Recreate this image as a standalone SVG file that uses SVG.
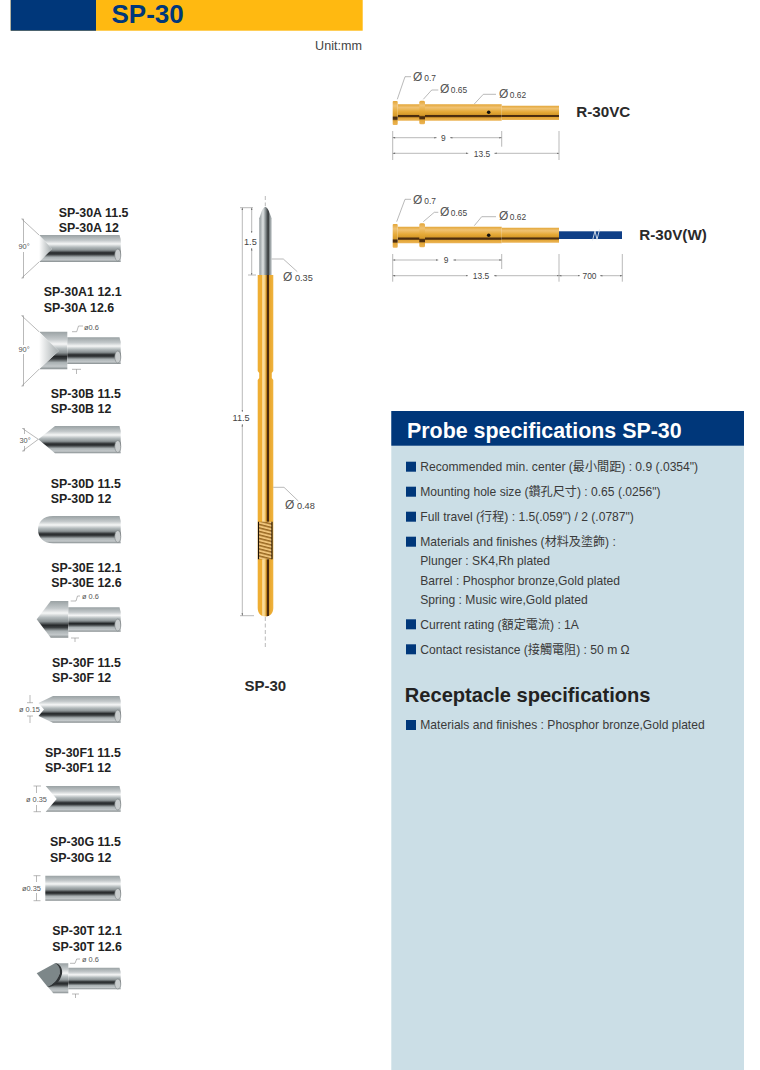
<svg xmlns="http://www.w3.org/2000/svg" width="760" height="1070" viewBox="0 0 760 1070">
<style>
text{font-family:"Liberation Sans","Noto Sans CJK TC",sans-serif}
.lb{font-size:12.4px;font-weight:700;fill:#222}
.sp{font-size:12.1px;fill:#3a3a3a}
.d{font-size:8.4px;fill:#444}
.dp{font-size:12px;fill:#555}
.m{font-size:9.2px;fill:#444}
.t{font-size:7.4px;fill:#555}
.big{font-size:15.2px;font-weight:700;fill:#2a2a2a}
.st{fill:url(#steel)}
.end{fill:#c9cdce;stroke:#7d8486;stroke-width:.6}
.g{fill:url(#gold)}
.ln{fill:none;stroke:#8a8a8a;stroke-width:.6}
.ar{fill:none;stroke:#8a8a8a;stroke-width:.6;marker-start:url(#as);marker-end:url(#ae)}
.bu{fill:#00377a}
</style>
<defs>
<linearGradient id="steel" x1="0" y1="0" x2="0" y2="1">
<stop offset="0" stop-color="#9aa2a4"/><stop offset=".2" stop-color="#c3c8ca"/><stop offset=".33" stop-color="#f5f6f6"/><stop offset=".45" stop-color="#b3babc"/><stop offset=".56" stop-color="#8b9294"/><stop offset=".66" stop-color="#25282a"/><stop offset=".72" stop-color="#3a3e40"/><stop offset=".82" stop-color="#aab1b3"/><stop offset=".92" stop-color="#c3c8ca"/><stop offset="1" stop-color="#858c8e"/>
</linearGradient>
<linearGradient id="cone" x1="0" y1="0" x2="1" y2="0">
<stop offset="0" stop-color="#fff"/><stop offset="1" stop-color="#a4abad"/>
</linearGradient>
<linearGradient id="pin" x1="0" y1="0" x2="1" y2="0">
<stop offset="0" stop-color="#8f979a"/><stop offset=".3" stop-color="#dfe3e4"/><stop offset=".5" stop-color="#8c9496"/><stop offset=".72" stop-color="#2e3234"/><stop offset=".85" stop-color="#8d9597"/><stop offset="1" stop-color="#c0c5c7"/>
</linearGradient>
<linearGradient id="barrel" x1="0" y1="0" x2="1" y2="0">
<stop offset="0" stop-color="#efae33"/><stop offset=".27" stop-color="#efae33"/><stop offset=".32" stop-color="#fbe3ac"/><stop offset=".46" stop-color="#f7cf7a"/><stop offset=".56" stop-color="#c88a20"/><stop offset=".6" stop-color="#4a2a0c"/><stop offset=".72" stop-color="#4a2a0c"/><stop offset=".76" stop-color="#e8a62c"/><stop offset="1" stop-color="#f0b440"/>
</linearGradient>
<linearGradient id="gold" x1="0" y1="0" x2="0" y2="1">
<stop offset="0" stop-color="#e3a638"/><stop offset=".2" stop-color="#f0c272"/><stop offset=".45" stop-color="#e6aa38"/><stop offset=".62" stop-color="#d69a2a"/><stop offset=".68" stop-color="#4a2c0e"/><stop offset=".76" stop-color="#50300f"/><stop offset=".82" stop-color="#e3a636"/><stop offset="1" stop-color="#ecb558"/>
</linearGradient>
<pattern id="hatch" width="13" height="3.4" patternUnits="userSpaceOnUse" patternTransform="rotate(14)">
<rect width="13" height="3.4" fill="#eec37a"/><rect width="13" height="1.5" fill="#9a6a24"/>
</pattern>
<marker id="as" markerWidth="5" markerHeight="4" refX="0" refY="2" orient="auto"><path d="M0 2L4 .8V3.2Z" fill="#666"/></marker>
<marker id="ae" markerWidth="5" markerHeight="4" refX="4" refY="2" orient="auto"><path d="M4 2L0 .8V3.2Z" fill="#666"/></marker>
</defs>
<rect width="760" height="1070" fill="#fff"/>

<g id="banner">
<rect x="10.7" y="0" width="352" height="30.7" fill="#ffb911"/>
<rect x="10.7" y="0" width="85.3" height="30.7" fill="#00377a"/>
<text x="111.5" y="22.7" font-size="26" font-weight="700" fill="#00377a">SP-30</text>
<text x="362" y="50" font-size="12.6" text-anchor="end" fill="#444">Unit:mm</text>
</g>

<g id="tip-A">
<text class="lb" x="58.7" y="216.5">SP-30A 11.5</text><text class="lb" x="58.7" y="231.5">SP-30A 12</text>
<path class="st" d="M39 235H119.5Q121.5 240 120.7 246V262H39L52 248.7Z"/>
<path d="M39 235L52 248.7L39 262Z" fill="url(#cone)"/>
<ellipse class="end" cx="117.8" cy="255" rx="3" ry="6"/>
<text class="t" x="18.5" y="248.5">90°</text>
<path class="ln" d="M39 235L21.7 219L23.5 219V243M23.5 252V278L21.7 278L39 262"/>
</g>
<g id="tip-A1">
<text class="lb" x="43.7" y="296">SP-30A1 12.1</text><text class="lb" x="43.7" y="311.5">SP-30A 12.6</text>
<path class="st" d="M39 331.7H67.3V369.3H39L58.7 351Z"/>
<path d="M39 331.7L58.7 351L39 369.3Z" fill="url(#cone)"/>
<path class="st" d="M67.3 337.3H119.5Q121.5 342 120.7 348V364H67.3Z"/>
<ellipse class="end" cx="117.8" cy="357" rx="3" ry="6"/>
<text class="t" x="18.5" y="351.5">90°</text>
<text class="t" x="84" y="330">ø0.6</text>
<path class="ln" d="M39 331.7L21.7 315.7L23.5 315.7V345M23.5 354V386L21.7 386L39 369.3"/>
<path class="ln" d="M72 331.7H76.7L78.5 326H83M72 369.3H81M76.5 369.3V374"/>
</g>
<g id="tip-B">
<text class="lb" x="50.7" y="397.7">SP-30B 11.5</text><text class="lb" x="50.7" y="412.7">SP-30B 12</text>
<path class="st" d="M38.3 439.3L55 426H119.5Q121.5 431 120.7 437V453.3H55Z"/>
<ellipse class="end" cx="117.8" cy="446.5" rx="3" ry="6"/>
<text class="t" x="19.5" y="442.5">30°</text>
<path class="ln" d="M38.3 439.3L22.5 428.5L24.5 428.5V434M24.5 446V451L22.5 451L38.3 439.3"/>
</g>
<g id="tip-D">
<text class="lb" x="50.7" y="487.7">SP-30D 11.5</text><text class="lb" x="50.7" y="502.7">SP-30D 12</text>
<path class="st" d="M53 516H119.5Q121.5 521 120.7 527V543.3H53C43 543.3 38 537 38 529.7C38 522 43 516 53 516Z"/>
<ellipse class="end" cx="117.8" cy="536.5" rx="3" ry="6"/>
</g>
<g id="tip-E">
<text class="lb" x="51.3" y="571.7">SP-30E 12.1</text><text class="lb" x="51.3" y="586.7">SP-30E 12.6</text>
<path class="st" d="M36.7 619.3L50.7 601H68.3V637.7H50.7Z"/>
<path class="st" d="M68.3 607.3H119.5Q121.5 612 120.7 618V631.7H68.3Z"/>
<ellipse class="end" cx="117.8" cy="625" rx="3" ry="6"/>
<text class="t" x="82" y="599">ø 0.6</text>
<path class="ln" d="M70.7 601H76L77.5 596H80M71 638H79M75 638V642"/>
</g>
<g id="tip-F">
<text class="lb" x="52" y="666.7">SP-30F 11.5</text><text class="lb" x="52" y="682.3">SP-30F 12</text>
<path class="st" d="M38.5 703L53 696H119.5Q121.5 701 120.7 707V722.7H53L38.5 716L44 709.5Z"/>
<ellipse class="end" cx="117.8" cy="716" rx="3" ry="6"/>
<text class="t" x="19" y="711.5">ø 0.15</text>
<path class="ln" d="M30 695V702.7M27 702.7H33M27 716H33M30 716V723"/>
</g>
<g id="tip-F1">
<text class="lb" x="45" y="756.7">SP-30F1 11.5</text><text class="lb" x="45" y="771.7">SP-30F1 12</text>
<path class="st" d="M45.7 786H119.5Q121.5 791 120.7 797V811.7H45.7L56.7 799Z"/>
<ellipse class="end" cx="117.8" cy="804.5" rx="3" ry="5.5"/>
<text class="t" x="26" y="801.5">ø 0.35</text>
<path class="ln" d="M33.5 786H41M36.5 786V793M36.5 805V811.7M33.5 811.7H41"/>
</g>
<g id="tip-G">
<text class="lb" x="50" y="846">SP-30G 11.5</text><text class="lb" x="50" y="861.7">SP-30G 12</text>
<path class="st" d="M45.3 875.7H119.5Q121.5 880 120.7 886V900.7H45.3Z"/>
<ellipse class="end" cx="117.8" cy="894" rx="3" ry="5.5"/>
<text class="t" x="22" y="890.5">ø0.35</text>
<path class="ln" d="M33.5 875.7H40.5M36.5 875.7V882M36.5 893V900.7M33.5 900.7H40.5"/>
</g>
<g id="tip-T">
<text class="lb" x="52.3" y="935">SP-30T 12.1</text><text class="lb" x="52.3" y="950.7">SP-30T 12.6</text>
<path class="st" d="M55 963.3H68.3V993.3H53.3L47.7 986.7Z"/>
<path class="st" d="M68.3 967.7H119.5Q121.5 972 120.7 978V989.3H68.3Z"/>
<ellipse class="end" cx="117.8" cy="984" rx="3" ry="5"/>
<path d="M36.7 973.3L55 963.3C59 965 60.5 970 59.8 973C58 980 53 985 47.7 987Z" fill="#7d8789"/>
<path d="M47.7 987C53 985 58 980 59.8 973C60.5 970 59 965 55 963.3C60 963.5 63 969 62 974C60 982 54 987 47.7 987Z" fill="#2f3335"/>
<text class="t" x="82" y="962">ø 0.6</text>
<path class="ln" d="M70 963.3H75L76.7 959H80M72 994H79M75.5 994V998"/>
</g>

<g id="probe-SP-30">
<path d="M265.3 206.7C263.5 207.5 262.5 209 261.8 211L259.3 218.3V275H271.7V218.3L268.8 211C268 209 267 207.5 265.3 206.7Z" fill="url(#pin)"/>
<path d="M257.7 275H273.3V371L271.8 373V378L273.3 380V608C273.3 613 270 616.5 265.5 616.5C261 616.5 257.7 613 257.7 608V380L259.2 378V373L257.7 371Z" fill="url(#barrel)"/>
<rect x="259" y="521.7" width="13" height="37.6" fill="url(#hatch)"/>
<path d="M258.5 521.7V559.3M272 521.7V559.3" stroke="#1c1208" stroke-width="1.1"/>
<text class="m" x="244" y="244.5">1.5</text>
<text class="m" x="232.5" y="421">11.5</text>
<text class="m" x="283" y="280.5"><tspan font-size="12" fill="#555">Ø</tspan> 0.35</text>
<text class="m" x="285" y="508.5"><tspan font-size="12" fill="#555">Ø</tspan> 0.48</text>
<text x="244.5" y="690.5" font-size="15" font-weight="700" fill="#2a2a2a">SP-30</text>
</g>

<g id="receptacle-R-30VC">
<path class="g" d="M397.7 104.3H501.7V120.7H397.7Z"/>
<path class="g" d="M501.7 105.7H559V120H501.7Z"/>
<rect class="g" x="392.7" y="101" width="5" height="24" rx="1"/>
<rect class="g" x="419.3" y="100.7" width="5.7" height="23.6" rx="1.5"/>
<circle cx="488.7" cy="112.3" r="1.8" fill="#111"/>
<text class="dp" x="413" y="81">Ø<tspan class="d" dx="2">0.7</tspan></text>
<text class="dp" x="440" y="93">Ø<tspan class="d" dx="1.5">0.65</tspan></text>
<text class="dp" x="499" y="97.5">Ø<tspan class="d" dx="1.5">0.62</tspan></text>
<text class="d" x="443.3" y="141" text-anchor="middle">9</text>
<text class="d" x="482" y="156.7" text-anchor="middle">13.5</text>
<text class="big" x="576.3" y="117">R-30VC</text>
</g>
<g id="receptacle-R-30VW">
<path class="g" d="M397.7 226.7H501.7V243.3H397.7Z"/>
<path class="g" d="M501.7 227.7H559V242.7H501.7Z"/>
<rect class="g" x="392.7" y="224" width="5" height="23.7" rx="1"/>
<rect class="g" x="419.3" y="223.3" width="5.7" height="24" rx="1.5"/>
<circle cx="488.7" cy="235.3" r="1.8" fill="#111"/>
<rect x="559" y="231.3" width="63" height="7.7" fill="#0f3f87"/>
<path d="M592.5 240.5L595 231L597 239.5L599.5 229.5" fill="none" stroke="#dfe6ee" stroke-width=".9"/>
<text class="dp" x="413" y="203.5">Ø<tspan class="d" dx="2">0.7</tspan></text>
<text class="dp" x="440" y="215.5">Ø<tspan class="d" dx="1.5">0.65</tspan></text>
<text class="dp" x="499" y="220">Ø<tspan class="d" dx="1.5">0.62</tspan></text>
<text class="d" x="446" y="263.3" text-anchor="middle">9</text>
<text class="d" x="481" y="279" text-anchor="middle">13.5</text>
<text class="d" x="589.5" y="279" text-anchor="middle">700</text>
<text class="big" x="639.3" y="240">R-30V(W)</text>
</g>

<g id="connectors">
<path class="ln" stroke-dasharray="4 2.5" d="M265.3 196V206M265.3 617V648"/>
<path class="ln" d="M240 207.7H253M248 275H256M240 615.7H254"/>
<path class="ar" d="M242.3 207.7V412"/><path class="ar" d="M242.3 424V615.7"/>
<path class="ar" d="M251.7 207.7V233"/><path class="ar" d="M251.7 248V275"/>
<path class="ln" d="M271.7 259H283.3L297.3 271.7M273.3 487.3H284L298.3 501"/>
<path class="ln" d="M397.3 99.3L405 76.7H411M423.3 99.3L431.7 90H438.3M474.3 104L483.3 94.3H496"/>
<path class="ln" d="M392.7 131V160M501.7 131V146.7M559 131V160"/>
<path class="ar" d="M392.7 137.7H436.7"/><path class="ar" d="M450 137.7H501.7"/>
<path class="ar" d="M392.7 153.3H468.3"/><path class="ar" d="M494.3 153.3H559"/>
<path class="ln" d="M396.7 221.7L405 199.3H411M423.3 221.7L434.3 212.3H438.3M474.3 225.7L481.7 216.7H496"/>
<path class="ln" d="M392.7 254V281.7M501.7 254V269M559 254V281.7M622.3 254V281.7"/>
<path class="ar" d="M392.7 260H438.3"/><path class="ar" d="M453.3 260H501.7"/>
<path class="ar" d="M392.7 275.7H468"/><path class="ar" d="M494 275.7H559"/>
<path class="ar" d="M559 275.7H580"/><path class="ar" d="M600 275.7H622.3"/>
</g>

<g id="spec-panel">
<rect x="391.3" y="411" width="352.7" height="659" fill="#cbdee6"/>
<rect x="391.3" y="411" width="352.7" height="34.7" fill="#00377a"/>
<text x="407" y="437.7" font-size="21.4" font-weight="700" fill="#fff">Probe specifications SP-30</text>
<rect class="bu" x="406" y="461.7" width="10" height="10"/>
<text class="sp" x="420.3" y="471">Recommended min. center (最小間距) : 0.9 (.0354")</text>
<rect class="bu" x="406" y="486.7" width="10" height="10"/>
<text class="sp" x="420.3" y="496">Mounting hole size (鑽孔尺寸) : 0.65 (.0256")</text>
<rect class="bu" x="406" y="511.7" width="10" height="10"/>
<text class="sp" x="420.3" y="521">Full travel (行程) : 1.5(.059") / 2 (.0787")</text>
<rect class="bu" x="406" y="536.7" width="10" height="10"/>
<text class="sp" x="420.3" y="545.7">Materials and finishes (材料及塗飾) :</text>
<text class="sp" x="420.3" y="565.3">Plunger : SK4,Rh plated</text>
<text class="sp" x="420.3" y="585">Barrel : Phosphor bronze,Gold plated</text>
<text class="sp" x="420.3" y="604.3">Spring : Music wire,Gold plated</text>
<rect class="bu" x="406" y="619.3" width="10" height="10"/>
<text class="sp" x="420.3" y="629.3">Current rating (額定電流) : 1A</text>
<rect class="bu" x="406" y="644.3" width="10" height="10"/>
<text class="sp" x="420.3" y="654.3">Contact resistance (接觸電阻) : 50 m Ω</text>
<text x="404.8" y="701.5" font-size="20.1" font-weight="700" fill="#222">Receptacle specifications</text>
<rect class="bu" x="406" y="720" width="10" height="10"/>
<text class="sp" x="420.3" y="729.3">Materials and finishes : Phosphor bronze,Gold plated</text>
</g>
</svg>
